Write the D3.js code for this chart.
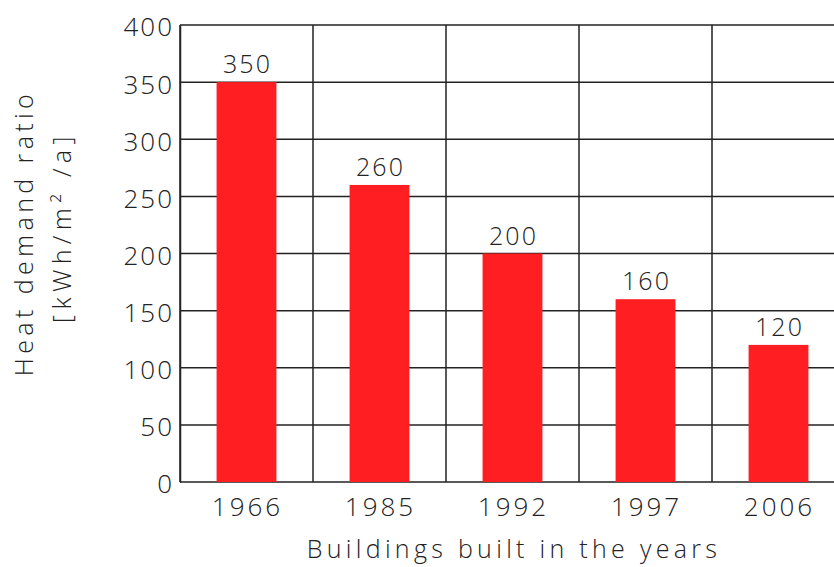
<!DOCTYPE html>
<html>
<head>
<meta charset="utf-8">
<script src="https://cdn.jsdelivr.net/npm/d3@7"></script>
<style>
  body { margin: 0; background: #fff; }
  text { font-family: "Open Sans", sans-serif; font-weight: 300; fill: #222; }
</style>
</head>
<body>
<div id="chart"></div>
<script>
var years = ["1966", "1985", "1992", "1997", "2006"];
var demand = [350, 260, 200, 160, 120];
var yTicks = [0, 50, 100, 150, 200, 250, 300, 350, 400];

var width = 834, height = 567;
var plotLeft = 180, plotRight = 845, plotTop = 25, plotBottom = 482;

var svg = d3.select("#chart").append("svg")
  .attr("width", width)
  .attr("height", height);

// scales
var xCell = d3.scaleBand().domain(years).range([plotLeft, plotRight]).padding(0);
var xBar = d3.scaleBand().domain(years).range([plotLeft, plotRight])
  .paddingInner(0.55).paddingOuter(0.275);
var y = d3.scaleLinear().domain([0, 400]).range([plotBottom, plotTop]);

// grid
svg.append("g").selectAll("line")
  .data(yTicks)
  .enter().append("line")
  .attr("x1", plotLeft).attr("x2", width)
  .attr("y1", function(d) { return y(d); })
  .attr("y2", function(d) { return y(d); })
  .attr("stroke", "#222").attr("stroke-width", 1.5);

svg.append("g").selectAll("line")
  .data(years)
  .enter().append("line")
  .attr("x1", function(d) { return xCell(d); })
  .attr("x2", function(d) { return xCell(d); })
  .attr("y1", y(0)).attr("y2", y(400))
  .attr("stroke", "#222").attr("stroke-width", 1.5);

// bars
svg.append("g").selectAll("rect")
  .data(demand)
  .enter().append("rect")
  .attr("x", function(d, i) { return xBar(years[i]); })
  .attr("width", xBar.bandwidth())
  .attr("y", function(d) { return y(d); })
  .attr("height", function(d) { return y(0) - y(d); })
  .attr("fill", "#ff1f22");

// value labels
svg.append("g").selectAll("text")
  .data(demand)
  .enter().append("text")
  .attr("x", function(d, i) { return xBar(years[i]) + xBar.bandwidth() / 2 + 1; })
  .attr("y", function(d) { return y(d) - 9; })
  .attr("text-anchor", "middle")
  .style("font-size", "25px")
  .style("letter-spacing", "2px")
  .text(function(d) { return d; });

// y axis
var yAxis = svg.append("g")
  .attr("transform", "translate(" + plotLeft + ",0)")
  .call(d3.axisLeft(y).tickValues(yTicks).tickSize(0).tickPadding(6));
yAxis.select(".domain").attr("stroke", "#222").attr("stroke-width", 1.5);
yAxis.selectAll("text")
  .attr("dy", "0.42em")
  .style("font-size", "26px")
  .style("letter-spacing", "2px")
  .style("font-family", null);

// x axis
var xAxis = svg.append("g")
  .attr("transform", "translate(0," + plotBottom + ")")
  .call(d3.axisBottom(xBar).tickSize(0).tickPadding(16));
xAxis.select(".domain").remove();
xAxis.selectAll("text")
  .attr("dx", "1px")
  .style("font-size", "26px")
  .style("letter-spacing", "3px")
  .style("font-family", null);

// axis titles
svg.append("text")
  .attr("x", 514).attr("y", 558)
  .attr("text-anchor", "middle")
  .style("font-size", "25px")
  .style("letter-spacing", "4.3px")
  .text("Buildings built in the years");

var yt = svg.append("g").attr("transform", "translate(33,235) rotate(-90)");
yt.append("text")
  .attr("x", 2).attr("y", 0)
  .attr("text-anchor", "middle")
  .style("font-size", "25px")
  .style("letter-spacing", "4.4px")
  .text("Heat demand ratio");
yt.append("text")
  .attr("x", 8).attr("y", 38)
  .attr("text-anchor", "middle")
  .style("font-size", "25px")
  .style("letter-spacing", "5.4px")
  .text("[kWh/m² /a]");
</script>
</body>
</html>
